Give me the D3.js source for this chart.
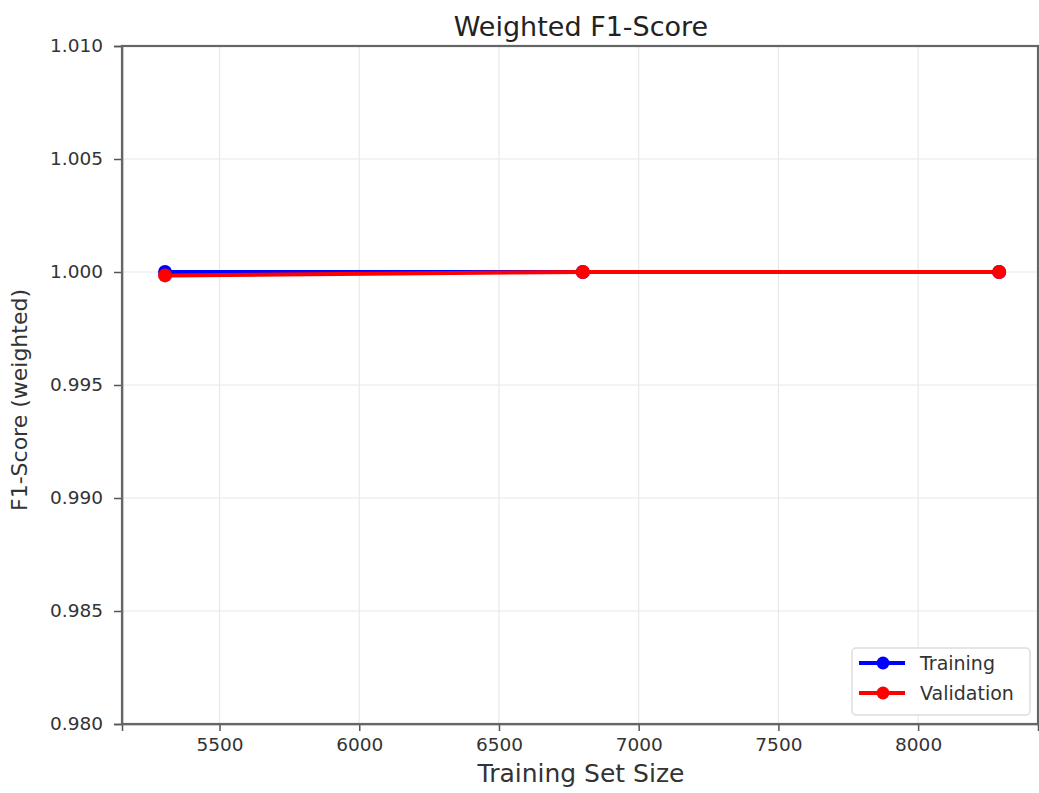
<!DOCTYPE html>
<html>
<head>
<meta charset="utf-8">
<script src="https://cdn.jsdelivr.net/npm/d3@7"></script>
<style>
  body { margin: 0; background: #fff; }
  svg { font-family: "DejaVu Sans", sans-serif; }
  .grid line { stroke: #e8e8e8; stroke-width: 1.2; }
  .axis path, .axis line { stroke: #555; stroke-width: 1.5; }
  .axis text { fill: #333; font-size: 18.5px; font-family: "DejaVu Sans", sans-serif; }
</style>
</head>
<body>
<svg width="1039" height="793"></svg>
<script>
// data
const trainSizes = [5305, 6800, 8290];
const trainScore = [1.0, 1.0, 1.0];
const valScore = [0.99985, 1.0, 1.0];
const valStd = [0.0001, 0.0, 0.0];
const yTicks = [0.980, 0.985, 0.990, 0.995, 1.000, 1.005, 1.010];
const xTicks = [5500, 6000, 6500, 7000, 7500, 8000];

const svg = d3.select("svg");
const m = { left: 122, right: 1038, top: 46, bottom: 724 };

const x = d3.scaleLinear().domain([5151, 8429]).range([m.left, m.right]);
const y = d3.scaleLinear().domain([0.980, 1.010]).range([m.bottom, m.top]);

// grid
const g = svg.append("g").attr("class", "grid");
g.selectAll(".vx").data(xTicks).enter().append("line")
  .attr("x1", d => x(d)).attr("x2", d => x(d))
  .attr("y1", m.top).attr("y2", m.bottom);
g.selectAll(".hy").data(yTicks).enter().append("line")
  .attr("x1", m.left).attr("x2", m.right)
  .attr("y1", d => y(d)).attr("y2", d => y(d));

// band for validation
const area = d3.area()
  .x((d, i) => x(trainSizes[i]))
  .y0((d, i) => y(d - valStd[i]))
  .y1((d, i) => y(d + valStd[i]));
svg.append("path").datum(valScore).attr("d", area)
  .attr("fill", "#ff0000").attr("opacity", 0.12);

// lines
const line = d3.line().x((d, i) => x(trainSizes[i])).y(d => y(d));
function series(vals, color) {
  svg.append("path").datum(vals).attr("d", line)
    .attr("fill", "none").attr("stroke", color).attr("stroke-width", 4);
  svg.selectAll(null).data(vals).enter().append("circle")
    .attr("cx", (d, i) => x(trainSizes[i])).attr("cy", d => y(d))
    .attr("r", 7).attr("fill", color);
}
series(trainScore, "#0000ff");
series(valScore, "#ff0000");

// axes
svg.append("g").attr("class", "axis")
  .attr("transform", `translate(0,${m.bottom})`)
  .call(d3.axisBottom(x).tickValues(xTicks).tickFormat(d3.format("d")).tickSizeOuter(0).tickSize(7).tickPadding(7));
svg.append("g").attr("class", "axis")
  .attr("transform", `translate(${m.left},0)`)
  .call(d3.axisLeft(y).tickValues(yTicks).tickFormat(d3.format(".3f")).tickSizeOuter(0).tickSize(8).tickPadding(11));

// spines
svg.append("rect").attr("x", m.left).attr("y", m.top)
  .attr("width", m.right - m.left).attr("height", m.bottom - m.top)
  .attr("fill", "none").attr("stroke", "#666").attr("stroke-width", 2.2);

// labels
svg.append("text").attr("x", (m.left + m.right) / 2 + 1).attr("y", 36)
  .attr("text-anchor", "middle").attr("font-size", 27).attr("fill", "#222")
  .text("Weighted F1-Score");
svg.append("text").attr("x", (m.left + m.right) / 2 + 1).attr("y", 782)
  .attr("text-anchor", "middle").attr("font-size", 25).attr("fill", "#333")
  .text("Training Set Size");
svg.append("text").attr("transform", `translate(27,${(m.top + m.bottom) / 2 + 15}) rotate(-90)`)
  .attr("text-anchor", "middle").attr("font-size", 22).attr("fill", "#333")
  .text("F1-Score (weighted)");

// legend
const lg = svg.append("g").attr("transform", "translate(852,648)");
lg.append("rect").attr("width", 178).attr("height", 67).attr("rx", 4)
  .attr("fill", "#fff").attr("stroke", "#ddd").attr("stroke-width", 1.5);
[["Training", "#0000ff"], ["Validation", "#ff0000"]].forEach(([name, c], i) => {
  const yy = 15 + i * 30;
  lg.append("line").attr("x1", 7).attr("x2", 53).attr("y1", yy).attr("y2", yy)
    .attr("stroke", c).attr("stroke-width", 4);
  lg.append("circle").attr("cx", 31).attr("cy", yy).attr("r", 6.5).attr("fill", c);
  lg.append("text").attr("x", 68).attr("y", yy + 7).attr("font-size", 19)
    .attr("fill", "#333").text(name);
});
</script>
</body>
</html>
